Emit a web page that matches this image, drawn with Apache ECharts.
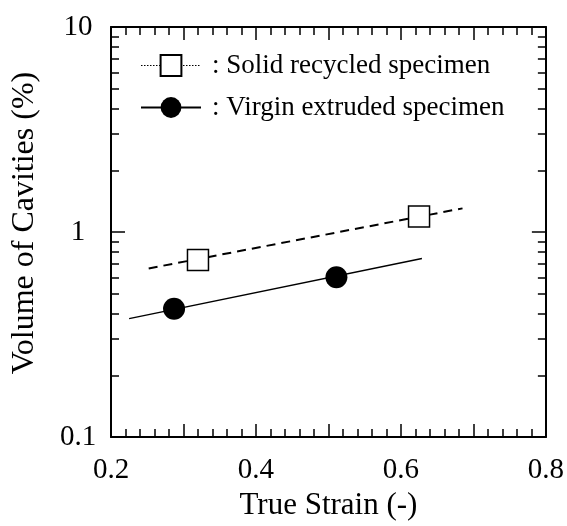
<!DOCTYPE html>
<html><head><meta charset="utf-8">
<script src="https://cdn.jsdelivr.net/npm/echarts@6/dist/echarts.min.js"></script>
<style>html,body{margin:0;padding:0;background:#fff}#c{width:567px;height:526px}</style>
</head><body><div id="c"></div><script>
// ---- data ----
const xMin = 0.2, xMax = 0.8, xStep = 0.1;
const xTickLabels = [0.2, 0.4, 0.6, 0.8];
const yMin = 0.1, yMax = 10;
const yMajor = [0.1, 1, 10];
const yMinor = [0.2, 0.3, 0.4, 0.5, 0.6, 0.7, 0.8, 0.9, 2, 3, 4, 5, 6, 7, 8, 9];
const recycledName = ': Solid recycled specimen';
const virginName = ': Virgin extruded specimen';
const recycledX = [0.320, 0.625];
const recycledY = [0.73, 1.19];
const virginX = [0.287, 0.511];
const virginY = [0.422, 0.601];
const recycledFitX = [0.252, 0.685];
const recycledFitY = [0.664, 1.304];
const virginFitX = [0.225, 0.629];
const virginFitY = [0.378, 0.742];
const xTitle = 'True Strain (-)';
const yTitle = 'Volume of Cavities (%)';

// ---- chart ----
const zip = (a, b) => a.map((v, i) => [v, b[i]]);
const FONT = 'Liberation Serif';
const BLACK = '#000';
const lineS = { color: BLACK, width: 2 };
const tickS = { color: BLACK, width: 1.5 };

function xAx(pos, main) {
  return {
    type: 'value', min: xMin, max: xMax, interval: xStep, position: pos,
    axisLine: { show: true, onZero: false, lineStyle: lineS },
    axisTick: { show: true, inside: true, length: 13, lineStyle: tickS },
    minorTick: { show: true, splitNumber: 5, length: 8, lineStyle: tickS },
    splitLine: { show: false }, minorSplitLine: { show: false },
    axisLabel: main ? { show: true, customValues: xTickLabels, formatter: v => v.toFixed(1), margin: 19,
      fontSize: 29, fontFamily: FONT, color: BLACK } : { show: false },
    name: main ? xTitle : '', nameLocation: 'middle', nameGap: 53,
    nameTextStyle: { fontSize: 31, fontFamily: FONT, color: BLACK }
  };
}
function yAx(pos, ticks, len, main, line) {
  return {
    type: 'log', logBase: 10, min: yMin, max: yMax, position: pos,
    axisLine: { show: line, onZero: false, lineStyle: lineS },
    axisTick: { show: true, inside: true, length: len, customValues: ticks, lineStyle: tickS },
    splitLine: { show: false },
    axisLabel: main ? { show: true, customValues: yMajor, formatter: v => String(v), align: 'center', margin: 33,
      fontSize: 29, fontFamily: FONT, color: BLACK } : { show: false },
    name: main ? yTitle : '', nameLocation: 'middle', nameGap: 70,
    nameTextStyle: { fontSize: 32, fontFamily: FONT, color: BLACK, padding: [0, 0, 0, 18] }
  };
}

const chart = echarts.init(document.getElementById('c'), null, { renderer: 'canvas' });
chart.setOption({
  animation: false,
  backgroundColor: '#fff',
  grid: { left: 111, right: 17, top: 27, bottom: 83, containLabel: false },
  xAxis: [xAx('bottom', true), xAx('top', false)],
  yAxis: [
    yAx('left', yMajor, 14, true, true),
    yAx('right', yMajor, 14, false, true),
    yAx('left', yMinor, 8, false, false),
    yAx('right', yMinor, 8, false, false)
  ],
  legend: {
    orient: 'vertical', left: 135, top: 47, itemWidth: 60, itemHeight: 26, itemGap: 15,
    selectedMode: false,
    textStyle: { fontFamily: FONT, fontSize: 27, color: BLACK, padding: [0, 0, 0, 6] },
    data: [
      { name: recycledName, lineStyle: { color: BLACK, width: 1, type: [1.5, 1.5], opacity: 1 } },
      { name: virginName, lineStyle: { color: BLACK, width: 2, type: 'solid', opacity: 1 } }
    ]
  },
  series: [
    { name: 'fitR', type: 'line', data: zip(recycledFitX, recycledFitY), symbol: 'none', silent: true, z: 1,
      lineStyle: { color: BLACK, width: 2, type: [9, 6] } },
    { name: 'fitV', type: 'line', data: zip(virginFitX, virginFitY), symbol: 'none', silent: true, z: 1,
      lineStyle: { color: BLACK, width: 1.5 } },
    { name: recycledName, type: 'line', data: zip(recycledX, recycledY), symbol: 'rect', symbolSize: 21, z: 3,
      itemStyle: { color: '#fff', borderColor: BLACK, borderWidth: 1.5 }, lineStyle: { opacity: 0 } },
    { name: virginName, type: 'line', data: zip(virginX, virginY), symbol: 'circle', symbolSize: 22, z: 3,
      itemStyle: { color: BLACK, borderColor: BLACK, borderWidth: 0 }, lineStyle: { opacity: 0 } }
  ]
});
</script></body></html>
